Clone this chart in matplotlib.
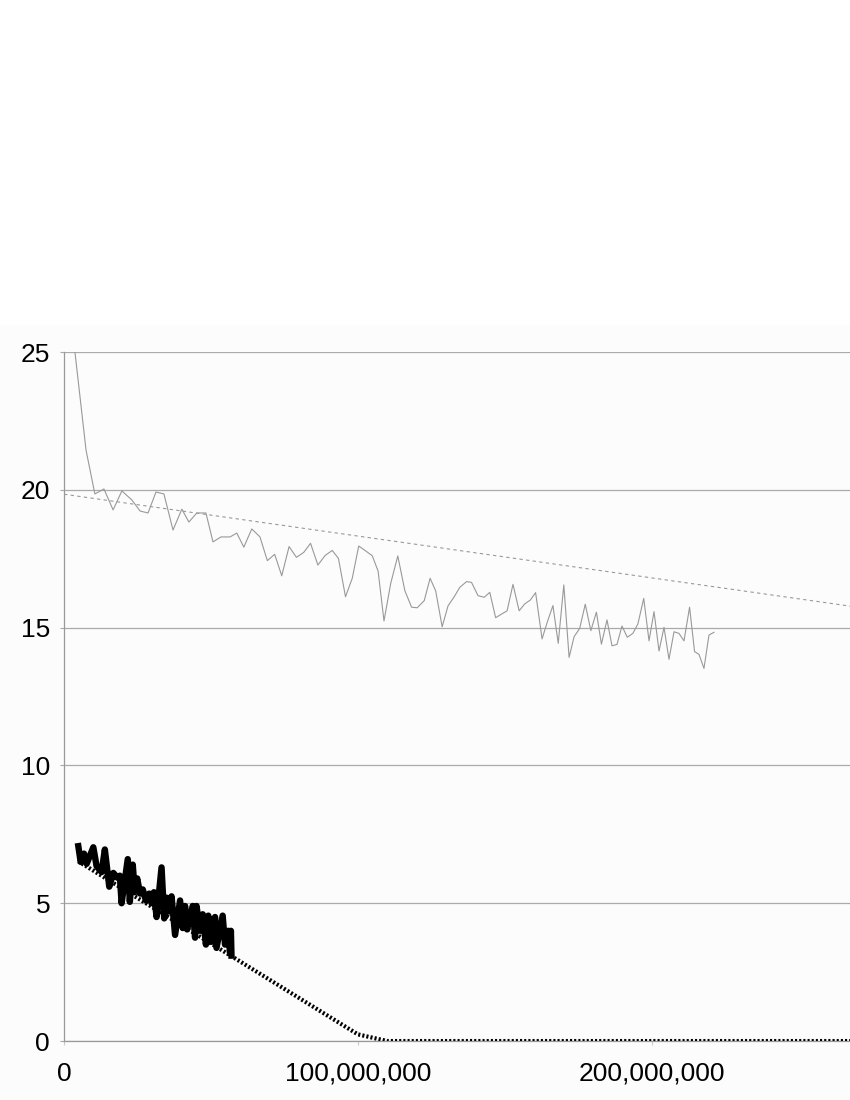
import numpy as np
import matplotlib.pyplot as plt
from matplotlib.ticker import FuncFormatter
from matplotlib.patches import Rectangle

plt.rcParams['font.family'] = ['Liberation Sans', 'DejaVu Sans']

# gray series (x in millions)
gray_x = [2.7, 7.5, 10.5, 13.6, 16.7, 19.7, 23.1, 25.9, 28.6, 31.3,
          34.0, 37.1, 40.1, 42.5, 45.2, 48.3, 50.7, 53.4, 56.5, 58.8,
          61.2, 63.9, 66.7, 69.2, 71.7, 74.1, 76.6, 79.1, 81.6, 83.9,
          86.4, 88.9, 91.3, 93.4, 95.8, 98.1, 100.3, 102.7, 104.9, 106.9,
          108.9, 111.2, 113.6, 116.0, 118.3, 120.2, 122.6, 124.6, 126.5, 128.7,
          130.7, 132.8, 134.7, 137.0, 138.7, 140.9, 143.0, 144.9, 146.9, 148.9,
          150.8, 152.8, 154.9, 156.8, 158.7, 160.5, 162.7, 164.5, 166.4, 168.2,
          170.1, 171.9, 173.6, 175.5, 177.4, 179.3, 181.2, 182.9, 184.8, 186.5,
          188.2, 189.9, 191.7, 193.6, 195.3, 197.3, 199.1, 200.8, 202.5, 204.2,
          205.9, 207.6, 209.3, 211.0, 212.9, 214.6, 216.1, 217.8, 219.5, 221.2]
gray_y = [25.96, 21.44, 19.85, 20.03, 19.27, 19.96, 19.63, 19.23, 19.16, 19.92,
          19.85, 18.54, 19.30, 18.83, 19.16, 19.16, 18.11, 18.29, 18.29, 18.43,
          17.92, 18.58, 18.29, 17.43, 17.66, 16.88, 17.94, 17.55, 17.73, 18.06,
          17.27, 17.62, 17.80, 17.51, 16.12, 16.79, 17.96, 17.78, 17.61, 17.05,
          15.24, 16.61, 17.60, 16.34, 15.74, 15.72, 15.98, 16.79, 16.33, 15.03,
          15.79, 16.12, 16.46, 16.67, 16.64, 16.16, 16.10, 16.28, 15.36, 15.49,
          15.61, 16.57, 15.61, 15.86, 16.00, 16.27, 14.59, 15.21, 15.80, 14.43,
          16.55, 13.92, 14.67, 14.97, 15.85, 14.89, 15.56, 14.40, 15.28, 14.34,
          14.39, 15.06, 14.65, 14.79, 15.13, 16.06, 14.52, 15.58, 14.15, 15.01,
          13.85, 14.85, 14.79, 14.52, 15.74, 14.13, 14.03, 13.52, 14.73, 14.83]

# gray trend line endpoints
gray_trend_x = [0, 267.5]
gray_trend_y = [19.84, 15.78]

# black series (x in millions)
black_x = [4.87, 5.67, 6.8, 7.71, 9.98, 11.1, 12.8, 13.9, 15.4, 16.8,
           18.1, 19.0, 19.6, 21.7, 22.4, 23.4, 24.1, 24.9, 25.9, 26.8,
           27.9, 29.0, 29.8, 30.6, 31.5, 33.2, 34.1, 34.9, 35.8, 36.6,
           37.8, 39.5, 40.4, 41.2, 41.9, 43.8, 44.6, 45.1, 46.3, 47.2,
           48.3, 49.1, 50.2, 51.4, 51.9, 54.0, 54.8, 55.9, 56.5, 56.8, 57.0]
black_y = [7.07, 6.5, 6.8, 6.43, 7.03, 6.34, 6.13, 6.95, 5.6, 6.1,
           5.93, 6.0, 5.0, 6.6, 5.05, 6.4, 5.4, 5.9, 5.35, 5.5,
           5.1, 5.35, 5.0, 5.4, 4.5, 6.3, 4.45, 5.2, 4.7, 5.25,
           3.85, 5.1, 4.1, 4.9, 4.05, 4.9, 3.75, 4.9, 4.0, 4.6,
           3.5, 4.55, 3.6, 4.5, 3.38, 4.55, 3.5, 4.0, 3.2, 4.0, 3.1]

# black trend: two readings of the linear trend, extended and floored at 0
black_trend_x = [4.87, 57.0]
black_trend_y = [6.52, 3.08]

x_max = 267.5

fig = plt.figure(figsize=(8.5, 11), dpi=100)
fig.patches.append(Rectangle((0, 0), 1, 0.705, transform=fig.transFigure,
                             color='#fcfcfc', zorder=-10))
ax = fig.add_axes([0.0753, 0.0536, 0.9247, 0.6264])
ax.set_facecolor('#fcfcfc')

coef = np.polyfit(black_trend_x, black_trend_y, 1)
tx = np.concatenate([black_x, np.arange(60, x_max + 10, 10)])
ty = np.clip(np.polyval(coef, tx), 0, None)

m = 1e6
ax.plot(np.array(gray_trend_x) * m, gray_trend_y, color='#999999', lw=0.8,
        linestyle=(0, (3, 3)), zorder=2)
ax.plot(np.array(gray_x) * m, gray_y, color='#999999', lw=0.8, zorder=3)
ax.plot(tx * m, ty, color='black', lw=3, linestyle=(0, (0.5, 0.5)), zorder=4)
ax.plot(np.array(black_x) * m, black_y, color='black', lw=4.6, zorder=5,
        solid_joinstyle='round')

ax.set_xlim(0, x_max * m)
ax.set_ylim(0, 25)
ax.set_yticks([0, 5, 10, 15, 20, 25])
ax.set_xticks([0, 100e6, 200e6])
ax.xaxis.set_major_formatter(FuncFormatter(lambda v, p: f'{int(v):,}'))
ax.grid(axis='y', color='#aaaaaa', lw=0.9)
ax.set_axisbelow(True)
for s in ['top', 'right']:
    ax.spines[s].set_visible(False)
for s in ['left', 'bottom']:
    ax.spines[s].set_color('#999999')
    ax.spines[s].set_linewidth(0.9)
ax.tick_params(axis='y', length=3, color='#aaaaaa', pad=7, labelsize=19)
ax.tick_params(axis='x', length=3, color='#cccccc', pad=12, labelsize=19)

fig.savefig('out.png', dpi=100)
